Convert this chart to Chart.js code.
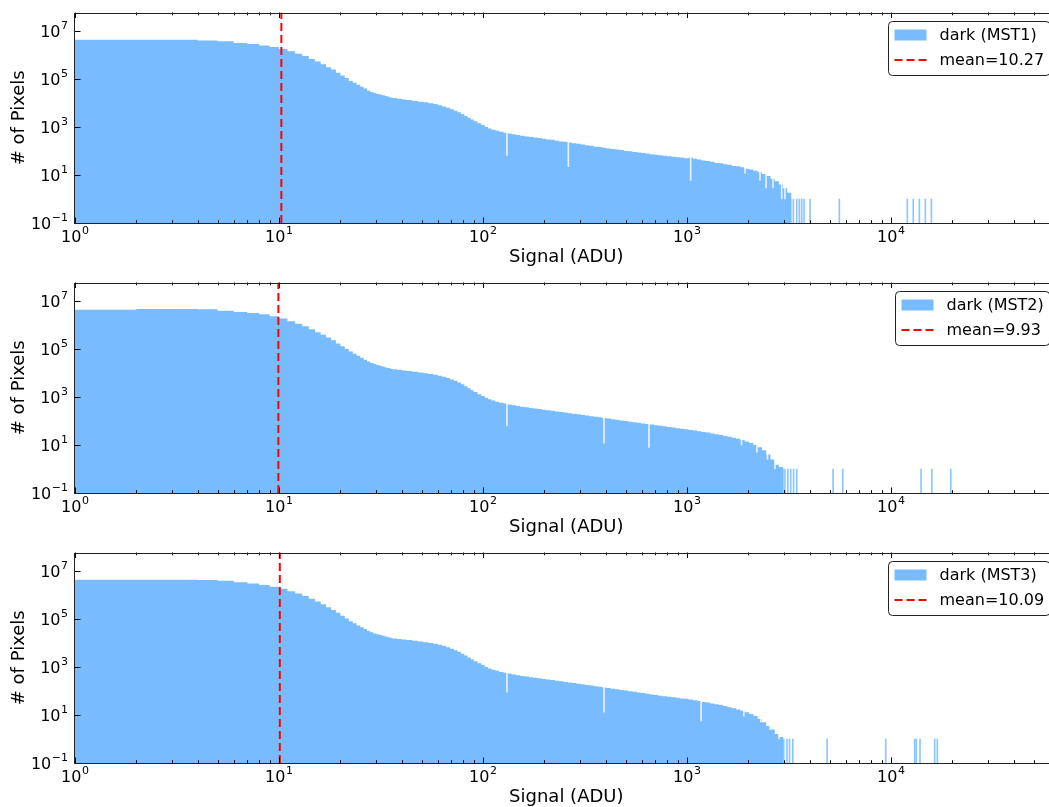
<!DOCTYPE html>
<html>
<head>
<meta charset="utf-8">
<script src="https://cdn.jsdelivr.net/npm/chart.js@4.4.1/dist/chart.umd.min.js"></script>
<style>
body{margin:0;background:#fff;overflow:hidden;}
#wrap{position:relative;width:1049px;height:807px;overflow:hidden;}
canvas{position:absolute;left:0;}
</style>
</head>
<body>
<div id="wrap">
<canvas id="c1" width="1060" height="270" style="top:0px"></canvas>
<canvas id="c2" width="1060" height="270" style="top:270px"></canvas>
<canvas id="c3" width="1060" height="270" style="top:540px"></canvas>
</div>
<script>
// bin left edges (ADU); last entry closes the final bin
const edges = [1,2,3,4,5,6,7,8,9,10,11,12,13,14,15,16,17,18,19,20,21,22,23,24,25,26,27,28,29,30,31,32,33,34,35,
  36,38,40,42,45,48,51,54,57,60,63,66,69,72,75,78,81,84,87,90,94,98,102,106,110,115,120,126,132,138,
  145,152,160,168,176,185,194,204,214,225,236,248,260,273,287,301,316,332,349,366,
  384,403,423,444,466,490,514,540,567,595,625,656,689,723,759,797,837,879,923,969,
  1017,1068,1121,1177,1236,1298,1363,1431,1503,1578,1657,1740,1827,1918,2014,2115,2220,2330,2445,2565,
  2690,2820,2960,3100,3250];

const countsMST1 = [4.3e6,4.35e6,4.3e6,4.0e6,3.7e6,3.2e6,2.9e6,2.5e6,2.15e6,1.78e6,
  1.42e6,1.13e6,9.1e5,6.8e5,5.3e5,4.1e5,3.1e5,2.5e5,1.8e5,1.4e5,
  1.1e5,8.2e4,7.0e4,5.8e4,4.8e4,4.0e4,3.3e4,2.9e4,2.6e4,2.4e4,
  2.25e4,2.1e4,1.95e4,1.8e4,1.7e4,
  1.6e4,1.5e4,1.4e4,1.33e4,1.22e4,1.14e4,1.07e4,9.8e3,9.0e3,8.1e3,
  7.2e3,6.3e3,5.5e3,4.7e3,4.1e3,3.5e3,2.9e3,2.45e3,2.05e3,1.75e3,
  1.45e3,1.2e3,1.0e3,870,770,690,630,580,540,500,
  460,430,405,385,362,345,322,300,292,268,
  250,242,224,212,200,186,174,165,152,146,
  136,128,121,115,109,101,97,91,87,83,
  78,74,69,66,63,60,57,55,54,50,
  53,47,44,40,38,36,32,31,28,27,
  24,23,21,18,17,15,13,11,9,7,
  5.5,4,2.8,1.8];

const countsMST2 = [4.35e6,4.65e6,4.6e6,4.5e6,3.9e6,3.5e6,3.2e6,2.8e6,2.3e6,1.85e6,
  1.45e6,1.12e6,8.8e5,6.6e5,5.0e5,3.9e5,3.0e5,2.3e5,1.7e5,1.3e5,
  1.0e5,7.8e4,6.3e4,5.2e4,4.3e4,3.6e4,3.0e4,2.6e4,2.35e4,2.15e4,
  2.0e4,1.85e4,1.7e4,1.6e4,1.5e4,
  1.42e4,1.35e4,1.28e4,1.2e4,1.12e4,1.05e4,9.8e3,9.1e3,8.4e3,7.7e3,
  7.0e3,6.2e3,5.4e3,4.7e3,4.0e3,3.4e3,2.8e3,2.3e3,1.9e3,1.6e3,
  1.3e3,1.1e3,920,800,710,640,580,530,490,450,
  420,395,370,350,330,315,295,280,265,250,
  236,225,212,200,190,178,168,158,150,142,
  133,126,118,112,106,100,94,89,84,79,
  75,71,66,63,60,56,53,50,47,45,
  42,40,37,35,33,30,28,26,24,22,
  20,18,16,14,12,10,8,6,4,2.5,
  1.5,1.2,0.01,0.01];

const countsMST3 = [4.3e6,4.3e6,4.3e6,4.2e6,3.9e6,3.4e6,3.0e6,2.6e6,2.2e6,1.8e6,
  1.45e6,1.15e6,9.0e5,7.0e5,5.4e5,4.1e5,3.1e5,2.4e5,1.8e5,1.35e5,
  1.05e5,8.0e4,6.6e4,5.4e4,4.5e4,3.8e4,3.2e4,2.8e4,2.5e4,2.3e4,
  2.15e4,2.0e4,1.85e4,1.75e4,1.65e4,
  1.55e4,1.47e4,1.4e4,1.32e4,1.23e4,1.15e4,1.08e4,1.0e4,9.3e3,8.5e3,
  7.6e3,6.7e3,5.8e3,5.0e3,4.3e3,3.6e3,3.0e3,2.5e3,2.1e3,1.75e3,
  1.45e3,1.2e3,1.0e3,870,770,690,625,575,530,490,
  455,425,400,378,358,340,318,300,285,268,
  252,240,226,214,202,190,178,168,158,150,
  140,132,124,117,110,104,98,92,87,82,
  77,72,68,64,61,58,55,52,49,47,
  44,41,38,35,33,30,28,26,24,21,
  19,17,15,13,11,9,7,5,3.5,2.5,
  1.6,1.2,0.01,0.01];

// isolated single-count bins past the main body
const sparseMST1 = [3223,3321,3450,3554,3650,3747,4010,5580,12020,12850,13770,14730,15770];
const sparseMST2 = [2950,3020,3120,3223,3330,3450,5200,5800,14030,15850,19630];
const sparseMST3 = [2980,3090,3180,3300,4860,9420,13060,13300,13870,16370,16870];

// single bins that dip well below their neighbours
const dipsMST1 = [131,262,1042,1923,2280,2440,2640,2912,3020];
const dipLowMST1 = [65,22,6,12,6,2.9,3,1,1];
const dipsMST2 = [131,392,651,1850,2200,2480,2700];
const dipLowMST2 = [62,12,8,10,5,2.5,1];
const dipsMST3 = [131,392,1172,1900,2300,2550,2820];
const dipLowMST3 = [90,13,5.6,9,5,2.5,1];

const means = [10.27, 9.93, 10.09];
const names = ['MST1','MST2','MST3'];

const xMajor = [1,10,100,1000,10000];
const yMajor = [0.1,10,1e3,1e5,1e7];
const xMax = 65536, yMin = 0.1, yMax = 5.9e7;

Chart.defaults.font.family = '"DejaVu Sans", sans-serif';
Chart.defaults.color = '#000';

// "10" plus a raised exponent, the way mathtext sets it
let drawPow=(ctx, v, x, base, align)=>{
  let e = String(Math.round(Math.log10(v))).replace('-','\u2212');
  ctx.font = '16px "DejaVu Sans"';
  let w1 = ctx.measureText('10').width;
  ctx.font = '11px "DejaVu Sans"';
  let w2 = ctx.measureText(e).width;
  let tot = w1 + w2 + 0.5;
  let x0 = align=='center' ? x - tot/2 : x - tot;
  ctx.textAlign = 'left';
  ctx.textBaseline = 'alphabetic';
  ctx.font = '16px "DejaVu Sans"';
  ctx.fillText('10', x0, base);
  ctx.font = '11px "DejaVu Sans"';
  ctx.fillText(e, x0 + w1 + 0.5, base - 7.5);
}

const frame = {
  id:'frame',
  afterDatasetsDraw(chart){
    const {ctx, chartArea:a, scales:{x, y}} = chart;
    ctx.save();
    ctx.strokeStyle = '#000';
    ctx.lineWidth = 1;
    ctx.beginPath();
    for(let d=0; d<5; d++){
      for(let m=1; m<10; m++){
        let v = m*Math.pow(10,d);
        if(v>xMax) break;
        let px = Math.round(x.getPixelForValue(v))+0.5;
        let len = m==1 ? 5.5 : 2.8;
        ctx.moveTo(px,a.bottom); ctx.lineTo(px,a.bottom-len);
        ctx.moveTo(px,a.top); ctx.lineTo(px,a.top+len);
      }
    }
    yMajor.forEach(v=>{
      let py = Math.round(y.getPixelForValue(v))+0.5;
      ctx.moveTo(a.left,py); ctx.lineTo(a.left+5.5,py);
      ctx.moveTo(a.right,py); ctx.lineTo(a.right-5.5,py);
    });
    ctx.stroke();
    ctx.strokeStyle = '#222';
    ctx.strokeRect(Math.round(a.left)-0.5, Math.round(a.top)+0.5, a.right-a.left, Math.round(a.bottom)-Math.round(a.top));
    // tick labels
    ctx.fillStyle = '#000';
    xMajor.forEach(v=>drawPow(ctx, v, x.getPixelForValue(v), a.bottom+18.7, 'center'));
    yMajor.forEach(v=>drawPow(ctx, v, a.left-7, y.getPixelForValue(v)+5.8, 'right'));
    ctx.restore();
  }
};

const panelLegend = {
  id:'panelLegend',
  afterDraw(chart, args, opts){
    const {ctx, chartArea:a} = chart;
    ctx.save();
    ctx.font = '16px "DejaVu Sans"';
    let tw = Math.max(ctx.measureText(opts.label).width, ctx.measureText(opts.meanLabel).width);
    let w = 6+32+13+tw+6, h = 54;
    let x0 = Math.round(a.right-8-w)+0.5, y0 = Math.round(a.top+8)+0.5;
    ctx.beginPath();
    ctx.roundRect(x0,y0,w,h,4);
    ctx.fillStyle = '#fff';
    ctx.fill();
    ctx.strokeStyle = '#222';
    ctx.lineWidth = 1;
    ctx.stroke();
    ctx.fillStyle = '#78bcff';
    ctx.fillRect(x0+6, y0+8, 32, 11);
    ctx.beginPath();
    ctx.setLineDash([8,4]);
    ctx.strokeStyle = '#ff0000';
    ctx.lineWidth = 2;
    ctx.moveTo(x0+6, y0+38.5);
    ctx.lineTo(x0+38, y0+38.5);
    ctx.stroke();
    ctx.setLineDash([]);
    ctx.fillStyle = '#000';
    ctx.textBaseline = 'middle';
    ctx.fillText(opts.label, x0+51, y0+14);
    ctx.fillText(opts.meanLabel, x0+51, y0+39);
    ctx.restore();
  }
};

let makeChart=(id, counts, sparse, dips, dipLow, mean, name)=>{
  let hist = edges.map((e,i)=>({x:e, y: i<counts.length ? counts[i] : counts[counts.length-1]}));
  new Chart(document.getElementById(id), {
    type:'line',
    data:{
      datasets:[
        {type:'line', data:[{x:mean,y:yMin},{x:mean,y:yMax}], borderColor:'#ff0000', borderWidth:2, borderDash:[8,4], pointRadius:0, fill:false, order:0},
        {type:'bar', data:sparse.map(k=>({x:k,y:1})), backgroundColor:'rgba(120,188,255,0.85)', barThickness:1, grouped:false, order:1},
        {type:'bar', data:dips.map((k,i)=>({x:k,y:[dipLow[i],yMax]})), backgroundColor:'rgba(255,255,255,0.8)', barThickness:1, grouped:false, order:2},
        {type:'line', data:hist, stepped:true, fill:'start', backgroundColor:'#78bcff', borderColor:'rgba(0,0,0,0)', borderWidth:0, pointRadius:0, order:3}
      ]
    },
    options:{
      responsive:false,
      animation:false,
      devicePixelRatio:1,
      layout:{padding:{top:12.5, right:2.4, left:0, bottom:0}},
      plugins:{
        legend:{display:false},
        tooltip:{enabled:false},
        panelLegend:{label:'dark ('+name+')', meanLabel:'mean='+mean.toFixed(2)}
      },
      scales:{
        x:{
          type:'logarithmic', min:1, max:xMax, offset:false,
          afterBuildTicks:(s)=>{ s.ticks = xMajor.map(v=>({value:v})); },
          afterFit:(s)=>{ s.height = 47; s.paddingLeft = 0; s.paddingRight = 0; },
          ticks:{display:false},
          grid:{display:false},
          border:{display:false},
          title:{display:true, text:'Signal (ADU)', font:{size:18}, padding:{top:0,bottom:2}}
        },
        y:{
          type:'logarithmic', min:yMin, max:yMax,
          afterBuildTicks:(s)=>{ s.ticks = yMajor.map(v=>({value:v})); },
          afterFit:(s)=>{ s.width = 75; s.paddingTop = 0; s.paddingBottom = 0; },
          ticks:{display:false},
          grid:{display:false},
          border:{display:false},
          title:{display:true, text:'# of Pixels', font:{size:18}, padding:{top:8.7,bottom:0}}
        }
      }
    },
    plugins:[frame, panelLegend]
  });
}

makeChart('c1', countsMST1, sparseMST1, dipsMST1, dipLowMST1, means[0], names[0]);
makeChart('c2', countsMST2, sparseMST2, dipsMST2, dipLowMST2, means[1], names[1]);
makeChart('c3', countsMST3, sparseMST3, dipsMST3, dipLowMST3, means[2], names[2]);
</script>
</body>
</html>
